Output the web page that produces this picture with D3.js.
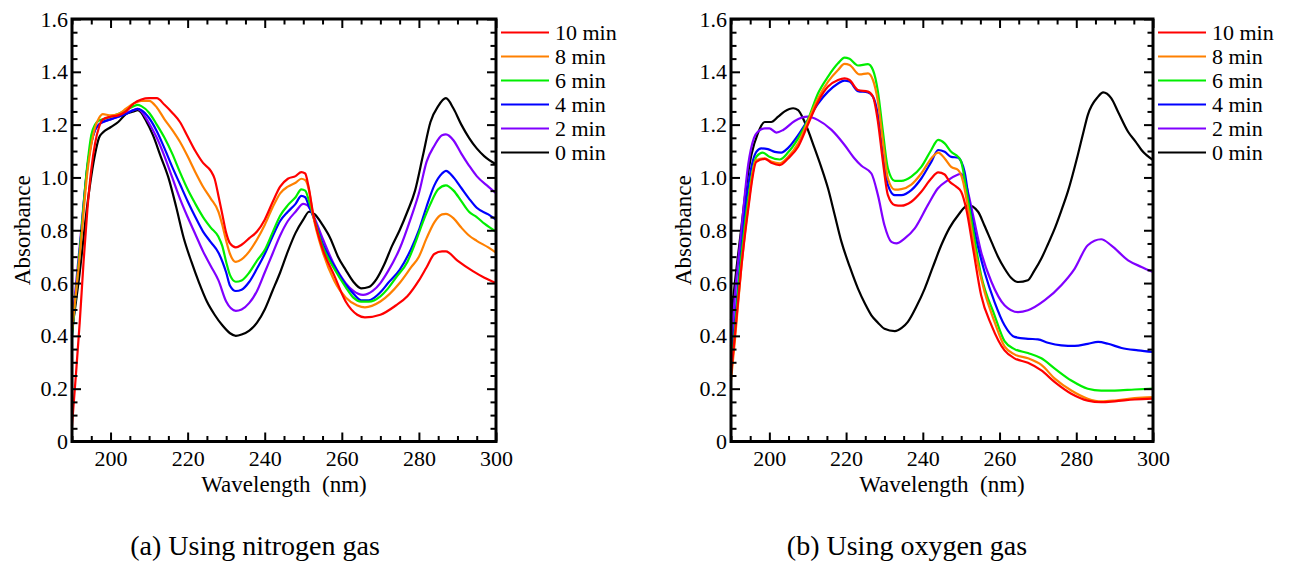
<!DOCTYPE html>
<html>
<head>
<meta charset="utf-8">
<script src="https://cdn.jsdelivr.net/npm/d3@7"></script>
<style>
  html, body { margin: 0; padding: 0; background: #fff; }
  svg text { font-family: "Liberation Serif", "Times New Roman", serif; fill: #000; }
</style>
</head>
<body>
<svg id="chart" width="1292" height="562"></svg>
<script>
// ---------- data ----------
const seriesLabels = ["10 min", "8 min", "6 min", "4 min", "2 min", "0 min"];
const seriesColors = ["#ff0000", "#ff8000", "#00ee00", "#0000ff", "#8000ff", "#000000"];
const xTickValues = [200, 220, 240, 260, 280, 300];
const yTickValues = [0, 0.2, 0.4, 0.6, 0.8, 1.0, 1.2, 1.4, 1.6];
const captions = ["(a) Using nitrogen gas", "(b) Using oxygen gas"];

// Nitrogen gas: [wavelength nm, absorbance]
const n2_10 = [[190,0.06],[191,0.25],[192,0.45],[193,0.68],[194,0.88],[195,1.03],[196,1.13],[197,1.19],[198,1.22],[200,1.23],[202,1.235],[204,1.25],[206,1.28],[208,1.295],[210,1.30],[212,1.30],[214,1.275],[216,1.245],[218,1.21],[220,1.155],[222,1.10],[224,1.055],[226,1.025],[227,0.995],[228,0.93],[229,0.86],[230,0.79],[231,0.75],[232.5,0.735],[234,0.745],[236,0.77],[238,0.795],[240,0.84],[242,0.905],[244,0.965],[246,0.995],[248,1.005],[249.5,1.02],[250.5,1.015],[251.3,0.97],[252.6,0.86],[255,0.73],[258,0.63],[261,0.53],[264,0.48],[266,0.47],[270,0.48],[274,0.515],[277,0.55],[280,0.61],[282,0.66],[284,0.71],[286,0.72],[287,0.72],[290,0.685],[294,0.645],[297,0.62],[300,0.60]];
const n2_8 = [[190,0.42],[192,0.70],[194,1.02],[196,1.19],[197,1.225],[198,1.24],[200,1.235],[202,1.24],[204,1.26],[206,1.28],[208,1.29],[210,1.29],[212,1.265],[214,1.22],[216,1.18],[218,1.135],[220,1.08],[222,1.02],[224,0.965],[226,0.92],[228,0.87],[229,0.82],[230,0.76],[231,0.71],[232.5,0.68],[234,0.69],[236,0.72],[238,0.765],[240,0.82],[242,0.885],[244,0.94],[246,0.965],[248,0.98],[249.5,0.995],[250.5,0.99],[251.5,0.95],[252.5,0.86],[255,0.72],[258,0.61],[261,0.545],[264,0.515],[266,0.508],[270,0.53],[275,0.60],[278,0.66],[280,0.70],[282,0.77],[284,0.83],[286,0.86],[287,0.862],[289,0.845],[291,0.81],[293,0.78],[295,0.76],[298,0.735],[300,0.715]];
const n2_6 = [[190,0.40],[192,0.72],[194,1.05],[195,1.16],[196,1.20],[197,1.215],[198,1.22],[200,1.23],[202,1.24],[204,1.255],[206,1.27],[207,1.275],[208,1.27],[210,1.245],[212,1.20],[214,1.15],[216,1.09],[218,1.02],[220,0.955],[222,0.90],[224,0.85],[226,0.81],[228,0.775],[229,0.74],[230,0.68],[231,0.63],[232.5,0.605],[234,0.61],[236,0.64],[238,0.685],[240,0.725],[242,0.79],[244,0.855],[246,0.895],[248,0.925],[249.5,0.955],[250.5,0.95],[251.5,0.91],[252.5,0.86],[255,0.74],[258,0.655],[261,0.585],[263,0.545],[265,0.53],[267,0.53],[270,0.55],[272,0.58],[274,0.62],[277,0.68],[279,0.75],[281,0.83],[283,0.90],[285,0.955],[287,0.97],[289,0.95],[291,0.91],[293,0.87],[295,0.85],[297,0.825],[300,0.795]];
const n2_4 = [[190,0.40],[192,0.72],[194,1.04],[195,1.13],[196,1.18],[197,1.20],[198,1.21],[200,1.22],[202,1.23],[204,1.24],[206,1.255],[207,1.26],[208,1.255],[210,1.225],[212,1.175],[214,1.11],[216,1.04],[218,0.975],[220,0.91],[222,0.85],[224,0.795],[226,0.755],[228,0.715],[230,0.64],[231,0.59],[232.5,0.57],[234,0.575],[236,0.605],[238,0.655],[240,0.71],[242,0.775],[244,0.835],[246,0.87],[248,0.90],[249.5,0.93],[250.5,0.925],[251.5,0.89],[252.5,0.855],[255,0.75],[258,0.665],[261,0.595],[263,0.56],[265,0.535],[267,0.535],[270,0.565],[272,0.60],[275,0.65],[278,0.73],[280,0.80],[282,0.89],[284,0.97],[286,1.015],[287,1.025],[289,1.00],[291,0.96],[293,0.92],[295,0.885],[298,0.86],[300,0.84]];
const n2_2 = [[190,0.44],[192,0.74],[194,1.04],[195,1.13],[196,1.18],[197,1.20],[198,1.21],[200,1.22],[202,1.23],[204,1.245],[206,1.255],[207,1.26],[208,1.25],[210,1.205],[212,1.15],[214,1.08],[216,1.00],[218,0.92],[220,0.85],[222,0.785],[224,0.72],[226,0.665],[228,0.61],[230,0.53],[232.5,0.495],[234,0.50],[236,0.525],[238,0.57],[240,0.64],[242,0.71],[244,0.78],[246,0.835],[248,0.87],[250,0.90],[251,0.895],[252.5,0.86],[255,0.77],[258,0.67],[261,0.60],[263,0.57],[265.5,0.555],[268,0.57],[270,0.60],[272,0.645],[275,0.73],[278,0.85],[280,0.94],[282,1.06],[284,1.12],[286,1.16],[287,1.163],[289,1.14],[291,1.09],[293,1.045],[295,1.005],[298,0.965],[300,0.94]];
const n2_0 = [[190,0.42],[192,0.64],[194,0.90],[196,1.09],[197,1.15],[198,1.17],[200,1.19],[202,1.21],[204,1.24],[206,1.25],[207,1.255],[208,1.245],[209,1.22],[211,1.16],[213,1.08],[215,1.00],[217,0.89],[219,0.77],[221,0.68],[223,0.60],[225,0.53],[227,0.48],[229,0.44],[231,0.41],[232.5,0.40],[234,0.405],[236,0.42],[238,0.45],[240,0.50],[242,0.57],[244,0.64],[246,0.72],[248,0.79],[250,0.84],[251.5,0.87],[253,0.86],[255,0.82],[257,0.77],[259,0.70],[261,0.65],[263,0.605],[265,0.58],[267,0.585],[269,0.615],[271,0.67],[273,0.74],[275,0.80],[277,0.87],[279,0.95],[281,1.08],[283,1.21],[285,1.27],[287,1.30],[289,1.26],[291,1.20],[293,1.15],[295,1.11],[297,1.08],[300,1.05]];

// Oxygen gas: [wavelength nm, absorbance]
const o2_10 = [[190,0.25],[191,0.40],[192.7,0.66],[194.4,0.87],[196.6,1.059],[198.8,1.07],[200.5,1.056],[202.7,1.047],[204.9,1.072],[207.5,1.116],[210,1.198],[212.7,1.287],[215.3,1.344],[217.9,1.369],[219.6,1.375],[220.9,1.369],[223.1,1.331],[225.7,1.325],[227,1.306],[228.3,1.211],[229.6,1.059],[230.9,0.933],[232.7,0.895],[234.4,0.893],[237,0.908],[239.6,0.946],[242.2,0.996],[244,1.019],[245.7,1.011],[247,0.984],[248.7,0.965],[250,0.946],[251.3,0.882],[253.1,0.731],[255.2,0.554],[257.9,0.44],[261.3,0.345],[263.9,0.315],[267.4,0.298],[270.9,0.269],[274.4,0.225],[278.7,0.181],[283,0.155],[286.5,0.149],[290,0.152],[295.2,0.159],[300,0.162]];
const o2_8 = [[190,0.23],[191,0.38],[192.7,0.66],[194.4,0.88],[196.6,1.066],[198.8,1.072],[200.5,1.06],[202.7,1.053],[204.9,1.078],[207.5,1.129],[210,1.211],[212.7,1.30],[215.3,1.363],[217.9,1.407],[219.6,1.43],[220.9,1.426],[223.5,1.39],[225.7,1.394],[227,1.369],[228.3,1.287],[229.6,1.135],[230.9,0.996],[232.7,0.954],[234.4,0.956],[237,0.973],[239.6,1.015],[242.2,1.072],[244,1.094],[245.7,1.072],[247.4,1.04],[249.2,1.028],[250.5,0.984],[251.8,0.882],[253.5,0.731],[256.1,0.566],[258.7,0.453],[261.3,0.36],[263.9,0.33],[267.4,0.315],[270.9,0.29],[274.4,0.238],[278.7,0.193],[283,0.162],[286.5,0.152],[290,0.155],[295.2,0.164],[300,0.168]];
const o2_6 = [[190,0.27],[191,0.42],[192.7,0.70],[194.4,0.91],[196.6,1.078],[198.3,1.094],[200,1.078],[202.7,1.068],[204.9,1.095],[207.5,1.148],[210,1.217],[212.7,1.319],[215.3,1.382],[217.9,1.432],[219.6,1.454],[220.9,1.449],[223.1,1.424],[225.7,1.429],[227,1.407],[228.3,1.325],[229.6,1.173],[230.9,1.034],[232.7,0.987],[234.4,0.987],[237,1.003],[239.6,1.04],[242.2,1.104],[244,1.142],[245.7,1.129],[247.4,1.097],[249.2,1.078],[250,1.06],[251.3,0.958],[252.6,0.845],[255.2,0.63],[258.7,0.478],[261.3,0.38],[263.9,0.35],[267.4,0.335],[270.9,0.315],[274.4,0.276],[278.7,0.231],[283,0.20],[286.5,0.193],[290,0.193],[295.2,0.197],[300,0.20]];
const o2_4 = [[190,0.30],[191,0.45],[192.7,0.73],[194.4,0.96],[196.6,1.097],[197.9,1.11],[199.6,1.107],[201.4,1.097],[203.1,1.094],[204.9,1.112],[207.5,1.16],[210,1.217],[212.7,1.28],[215.3,1.325],[217.9,1.356],[219.6,1.367],[220.9,1.363],[223.1,1.327],[225.7,1.322],[227,1.306],[228.3,1.236],[229.6,1.085],[230.9,0.971],[232.7,0.933],[234.4,0.933],[237,0.952],[239.6,0.996],[242.2,1.059],[244,1.104],[245.7,1.097],[247.4,1.078],[249.2,1.075],[250,1.06],[250.9,1.021],[252.2,0.895],[253.5,0.794],[256.1,0.642],[258.7,0.528],[261.3,0.44],[263.9,0.396],[267.4,0.389],[270,0.387],[272.6,0.374],[276.1,0.364],[279.6,0.362],[283,0.37],[285.7,0.377],[288.3,0.37],[291.8,0.354],[296.1,0.345],[300,0.339]];
const o2_2 = [[190,0.36],[191,0.55],[192.7,0.80],[194.5,1.05],[196,1.15],[197,1.173],[198.8,1.186],[200,1.186],[201.8,1.17],[203.6,1.18],[206.6,1.214],[210,1.23],[212.7,1.217],[216.2,1.18],[219.6,1.123],[222.2,1.072],[224,1.044],[226.6,1.015],[228.3,0.933],[230,0.819],[231.8,0.756],[233.1,0.75],[235.3,0.769],[237.9,0.807],[241.3,0.895],[243.9,0.958],[246.6,0.99],[249.2,1.011],[250,1.015],[251.3,0.971],[253.1,0.857],[255.2,0.718],[257.9,0.604],[261.3,0.516],[264.8,0.49],[267.4,0.497],[271.8,0.535],[276.1,0.592],[279.6,0.655],[283,0.743],[286.5,0.766],[289.1,0.743],[293.5,0.686],[297,0.661],[300,0.642]];
const o2_0 = [[190,0.46],[191,0.60],[192.7,0.81],[194,0.97],[195.3,1.085],[197,1.167],[198.8,1.21],[200.5,1.21],[202.3,1.23],[204,1.25],[206.2,1.262],[207.5,1.255],[209.2,1.21],[211.8,1.11],[213.5,1.04],[215.3,0.958],[217,0.86],[218.8,0.756],[221,0.66],[223.1,0.579],[225,0.52],[226.6,0.478],[228.3,0.45],[230,0.427],[232.7,0.418],[234.5,0.43],[236.1,0.453],[238.3,0.51],[240.5,0.579],[242.6,0.66],[244.8,0.743],[247,0.81],[249.2,0.857],[251.8,0.895],[254.4,0.87],[256,0.82],[257.9,0.756],[259.6,0.70],[261.3,0.655],[263,0.62],[264.8,0.604],[267.4,0.611],[269,0.645],[270.9,0.693],[272.7,0.75],[274.4,0.807],[276,0.87],[277.8,0.946],[280.4,1.085],[282,1.18],[283,1.236],[285.7,1.306],[287,1.322],[289.1,1.30],[291,1.245],[293.5,1.173],[295.5,1.135],[297,1.104],[300,1.066]];

const panelSeries = [
  [n2_10, n2_8, n2_6, n2_4, n2_2, n2_0],
  [o2_10, o2_8, o2_6, o2_4, o2_2, o2_0]
];

// ---------- layout ----------
const svg = d3.select("#chart");
const panels = [
  { left: 72, right: 496, top: 19, bottom: 441.5, ylabX: 30, legX: 501, capX: 255 },
  { left: 731, right: 1153, top: 19, bottom: 441.5, ylabX: 691, legX: 1158, capX: 907 }
];
const xMinor = d3.range(190, 301, 5).filter(v => v % 20 !== 0);
const yMinor = d3.range(0, 33).map(i => i * 0.05).filter(v => Math.abs(v * 5 - Math.round(v * 5)) > 1e-6);

panels.forEach((p, pi) => {
  const x = d3.scaleLinear().domain([190, 300]).range([p.left, p.right]);
  const y = d3.scaleLinear().domain([0, 1.6]).range([p.bottom, p.top]);
  const g = svg.append("g");

  // curves
  const line = d3.line().x(d => x(d[0])).y(d => y(d[1])).curve(d3.curveMonotoneX);
  const order = [5, 4, 3, 2, 1, 0];
  order.forEach(i => {
    g.append("path")
      .datum(panelSeries[pi][i])
      .attr("d", line)
      .attr("fill", "none")
      .attr("stroke", seriesColors[i])
      .attr("stroke-width", 2.2)
      .attr("stroke-linejoin", "round");
  });

  const fmtY = d => d === 0 ? "0" : d3.format(".1f")(d);
  const axisStyle = sel => {
    sel.select(".domain").remove();
    sel.selectAll(".tick line").attr("stroke", "#000").attr("stroke-width", 2);
    sel.selectAll(".tick text").style("font-family", '"Liberation Serif", serif').style("font-size", "22px").attr("fill", "#000");
  };

  // bottom
  g.append("g").attr("transform", `translate(0,${p.bottom})`)
    .call(d3.axisBottom(x).tickValues(xTickValues).tickSize(-9).tickPadding(9).tickFormat(d3.format("d")))
    .call(axisStyle);
  g.append("g").attr("transform", `translate(0,${p.bottom})`)
    .call(d3.axisBottom(x).tickValues(xMinor).tickSize(-5.5).tickFormat(""))
    .call(axisStyle);
  // top
  g.append("g").attr("transform", `translate(0,${p.top})`)
    .call(d3.axisTop(x).tickValues(xTickValues).tickSize(-9).tickFormat(""))
    .call(axisStyle);
  g.append("g").attr("transform", `translate(0,${p.top})`)
    .call(d3.axisTop(x).tickValues(xMinor).tickSize(-5.5).tickFormat(""))
    .call(axisStyle);
  // left
  g.append("g").attr("transform", `translate(${p.left},0)`)
    .call(d3.axisLeft(y).tickValues(yTickValues).tickSize(-9).tickPadding(4).tickFormat(fmtY))
    .call(axisStyle);
  g.append("g").attr("transform", `translate(${p.left},0)`)
    .call(d3.axisLeft(y).tickValues(yMinor).tickSize(-5.5).tickFormat(""))
    .call(axisStyle);
  // right
  g.append("g").attr("transform", `translate(${p.right},0)`)
    .call(d3.axisRight(y).tickValues(yTickValues).tickSize(-9).tickFormat(""))
    .call(axisStyle);
  g.append("g").attr("transform", `translate(${p.right},0)`)
    .call(d3.axisRight(y).tickValues(yMinor).tickSize(-5.5).tickFormat(""))
    .call(axisStyle);

  // frame
  g.append("rect")
    .attr("x", p.left).attr("y", p.top)
    .attr("width", p.right - p.left).attr("height", p.bottom - p.top)
    .attr("fill", "none").attr("stroke", "#000").attr("stroke-width", 3);

  // axis titles
  g.append("text")
    .attr("x", (p.left + p.right) / 2).attr("y", 492)
    .attr("text-anchor", "middle").style("font-size", "23px")
    .style("white-space", "pre")
    .text("Wavelength\u00a0\u00a0(nm)");
  g.append("text")
    .attr("transform", `translate(${p.ylabX},${(p.top + p.bottom) / 2}) rotate(-90)`)
    .attr("text-anchor", "middle").style("font-size", "23px")
    .text("Absorbance");

  // legend
  const legY0 = 32.5, legDy = 24;
  seriesLabels.forEach((lab, i) => {
    const ly = legY0 + i * legDy;
    g.append("line")
      .attr("x1", p.legX).attr("x2", p.legX + 48)
      .attr("y1", ly).attr("y2", ly)
      .attr("stroke", seriesColors[i]).attr("stroke-width", 2.2);
    g.append("text")
      .attr("x", p.legX + 54).attr("y", ly).attr("dy", "0.35em")
      .style("font-size", "22px").text(lab);
  });

  // caption
  g.append("text")
    .attr("x", p.capX).attr("y", 555)
    .attr("text-anchor", "middle").style("font-size", "28px")
    .text(captions[pi]);
});
</script>
</body>
</html>
